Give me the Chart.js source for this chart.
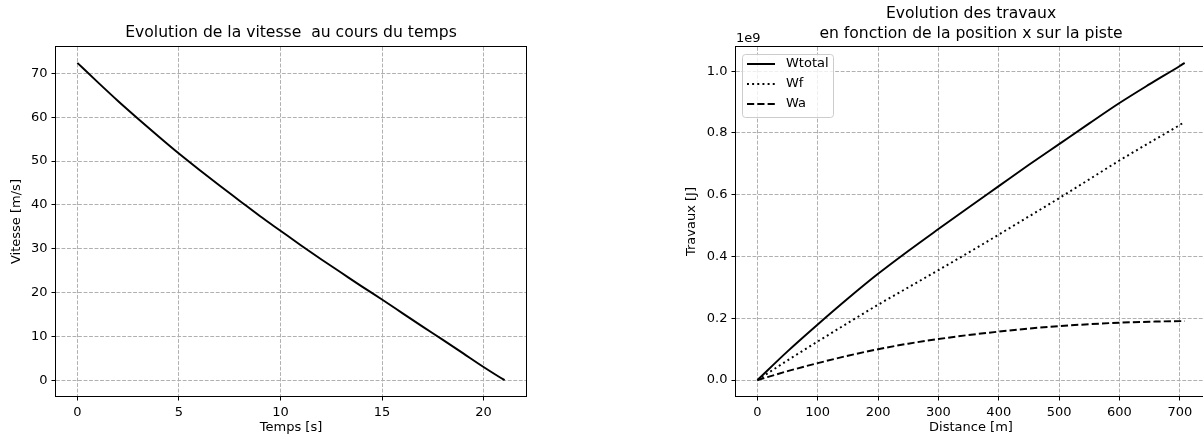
<!DOCTYPE html>
<html>
<head>
<meta charset="utf-8">
<script src="https://cdn.jsdelivr.net/npm/chart.js@4.4.0/dist/chart.umd.min.js"></script>
<style>
  html, body { margin: 0; padding: 0; background: #fff; overflow: hidden; width: 1203px; height: 443px; }
  canvas { position: absolute; top: 0; }
</style>
</head>
<body>
<canvas id="vitesse" width="582" height="443" style="left:0px"></canvas>
<canvas id="travaux" width="662" height="443" style="left:640px"></canvas>
<script>

// vitesse au cours du temps
const temps   = [0, 1, 2, 3, 4, 5, 6, 7, 8, 9, 10, 11, 12, 13, 14, 15, 16, 17, 18, 19, 20, 21, 21.04];
const vitesse = [72.4, 68.0, 63.7, 59.6, 55.6, 51.7, 48.0, 44.4, 40.9, 37.4, 34.1, 30.8, 27.6, 24.5,
                 21.4, 18.4, 15.3, 12.2, 9.2, 6.1, 3.0, 0.1, 0];
const ticksTemps   = [0, 5, 10, 15, 20];
const ticksVitesse = [0, 10, 20, 30, 40, 50, 60, 70];

// travaux (en 1e9 J) en fonction de la distance
const distance = [0, 50, 100, 150, 200, 250, 300, 350, 400, 450, 500, 550, 600, 650, 700, 708];
const wTotal = [0, 0.093, 0.180, 0.264, 0.344, 0.418, 0.489, 0.559, 0.628, 0.697, 0.764, 0.831, 0.897, 0.958, 1.017, 1.027];
const wF     = [0, 0.064, 0.125, 0.185, 0.244, 0.300, 0.356, 0.413, 0.471, 0.530, 0.589, 0.650, 0.711, 0.769, 0.826, 0.836];
const wA     = [0, 0.029, 0.055, 0.079, 0.100, 0.118, 0.133, 0.146, 0.157, 0.167, 0.175, 0.181, 0.186, 0.189, 0.191, 0.191];
const ticksDistance = [0, 100, 200, 300, 400, 500, 600, 700];
const ticksTravaux  = [0, 0.2, 0.4, 0.6, 0.8, 1.0];

Chart.defaults.font.family = 'DejaVu Sans';
Chart.defaults.font.size = 13;
Chart.defaults.color = '#000';

const GRID = '#b0b0b0';
const DASH_GRID = [3.85, 1.66];


/*
* build x/y points for a line dataset
*/
function points(xs, ys){
  return xs.map(function(x, i){ return {x: x, y: ys[i]}; });
}


/*
* one linear axis, matplotlib look
*
* @param ticks fixed tick values
* @param fmt label formatter
*/
function axe(ticks, min, max, titre, fmt, size, titrePad){
  return {
    type: 'linear',
    min: min,
    max: max,
    afterBuildTicks: function(scale){ scale.ticks = ticks.map(function(v){ return {value: v}; }); },
    afterFit: function(scale){
      if(scale.isHorizontal()) scale.height = size; else scale.width = size;
    },
    ticks: { autoSkip: false, maxRotation: 0, padding: 4, callback: fmt, color: '#000' },
    grid: {
      color: GRID, lineWidth: 1, borderDash: DASH_GRID,
      drawTicks: true, tickLength: 4.5, tickColor: '#000', tickWidth: 1, tickBorderDash: []
    },
    border: { display: false, dash: DASH_GRID },
    title: { display: true, text: titre, font: {size: 13}, padding: titrePad }
  };
}


// black frame round the plot area (4 spines)
const cadre = {
  id: 'cadre',
  afterDatasetsDraw: function(chart){
    const ctx = chart.ctx, a = chart.chartArea;
    ctx.save();
    ctx.strokeStyle = '#000';
    ctx.lineWidth = 1;
    const l = Math.round(a.left) - 0.5, t = Math.round(a.top) - 0.5;
    ctx.strokeRect(l, t, Math.round(a.right) - Math.round(a.left) + 1, Math.round(a.bottom) - Math.round(a.top) + 1);
    ctx.restore();
  }
};


// legend box in the upper left corner + the 1e9 offset text
const legende = {
  id: 'legende',
  afterDraw: function(chart){
    const ctx = chart.ctx, a = chart.chartArea;
    const x0 = a.left + 6, y0 = a.top + 7, w = 91, h = 63;

    ctx.save();
    ctx.beginPath();
    ctx.roundRect(x0 + 0.5, y0 + 0.5, w, h, 3);
    ctx.fillStyle = 'rgba(255,255,255,0.8)';
    ctx.fill();
    ctx.strokeStyle = '#cccccc';
    ctx.lineWidth = 1;
    ctx.stroke();

    ctx.font = '13px "DejaVu Sans"';
    ctx.textBaseline = 'middle';
    ctx.fillStyle = '#000';
    chart.data.datasets.forEach(function(ds, i){
      const y = y0 + 10 + i * 20;
      ctx.beginPath();
      ctx.setLineDash(ds.borderDash || []);
      ctx.lineWidth = ds.borderWidth;
      ctx.strokeStyle = ds.borderColor;
      ctx.moveTo(x0 + 5, y);
      ctx.lineTo(x0 + 33, y);
      ctx.stroke();
      ctx.setLineDash([]);
      ctx.fillText(ds.label, x0 + 44, y);
    });

    ctx.textAlign = 'left';
    ctx.fillText('1e9', a.left, a.top - 8);
    ctx.restore();
  }
};


// vitesse
new Chart(document.getElementById('vitesse'), {
  type: 'line',
  data: {
    datasets: [{
      label: 'vitesse',
      data: points(temps, vitesse),
      borderColor: '#000', borderWidth: 1.95,
      pointRadius: 0, cubicInterpolationMode: 'monotone'
    }]
  },
  options: {
    responsive: false,
    animation: false,
    events: [],
    layout: { padding: {left: 0, right: 56, top: 0, bottom: 0} },
    plugins: {
      legend: { display: false },
      tooltip: { enabled: false },
      title: {
        display: true,
        fullSize: false,
        text: 'Evolution de la vitesse  au cours du temps',
        font: {size: 15.6, weight: 'normal', lineHeight: 1.2},
        color: '#000',
        padding: {top: 23.7, bottom: 4.6}
      }
    },
    scales: {
      x: axe(ticksTemps, -1.052, 22.09, 'Temps [s]', function(v){ return v; }, 47, {top: 0, bottom: 7.2}),
      y: axe(ticksVitesse, -3.62, 76.02, 'Vitesse [m/s]', function(v){ return v; }, 56, {top: 9.2, bottom: 0})
    }
  },
  plugins: [cadre]
});


// travaux
new Chart(document.getElementById('travaux'), {
  type: 'line',
  data: {
    datasets: [
      { label: 'Wtotal', data: points(distance, wTotal), borderColor: '#000', borderWidth: 1.95,
        pointRadius: 0, cubicInterpolationMode: 'monotone' },
      { label: 'Wf', data: points(distance, wF), borderColor: '#000', borderWidth: 1.95, borderDash: [1.95, 3.2],
        pointRadius: 0, cubicInterpolationMode: 'monotone' },
      { label: 'Wa', data: points(distance, wA), borderColor: '#000', borderWidth: 1.95, borderDash: [7.2, 3.1],
        pointRadius: 0, cubicInterpolationMode: 'monotone' }
    ]
  },
  options: {
    responsive: false,
    animation: false,
    events: [],
    layout: { padding: {left: 0, right: 96, top: 0, bottom: 0} },
    plugins: {
      legend: { display: false },
      tooltip: { enabled: false },
      title: {
        display: true,
        fullSize: false,
        text: ['Evolution des travaux', 'en fonction de la position x sur la piste'],
        font: {size: 15.6, weight: 'normal', lineHeight: 20 / 15.6},
        color: '#000',
        padding: {top: 4, bottom: 3}
      }
    },
    scales: {
      x: axe(ticksDistance, -35.4, 743.4, 'Distance [m]', function(v){ return v; }, 47, {top: 0, bottom: 7.2}),
      y: axe(ticksTravaux, -0.0514, 1.0784, 'Travaux [J]', function(v){ return v.toFixed(1); }, 96, {top: 44.2, bottom: 0})
    }
  },
  plugins: [cadre, legende]
});
</script>
</body>
</html>
